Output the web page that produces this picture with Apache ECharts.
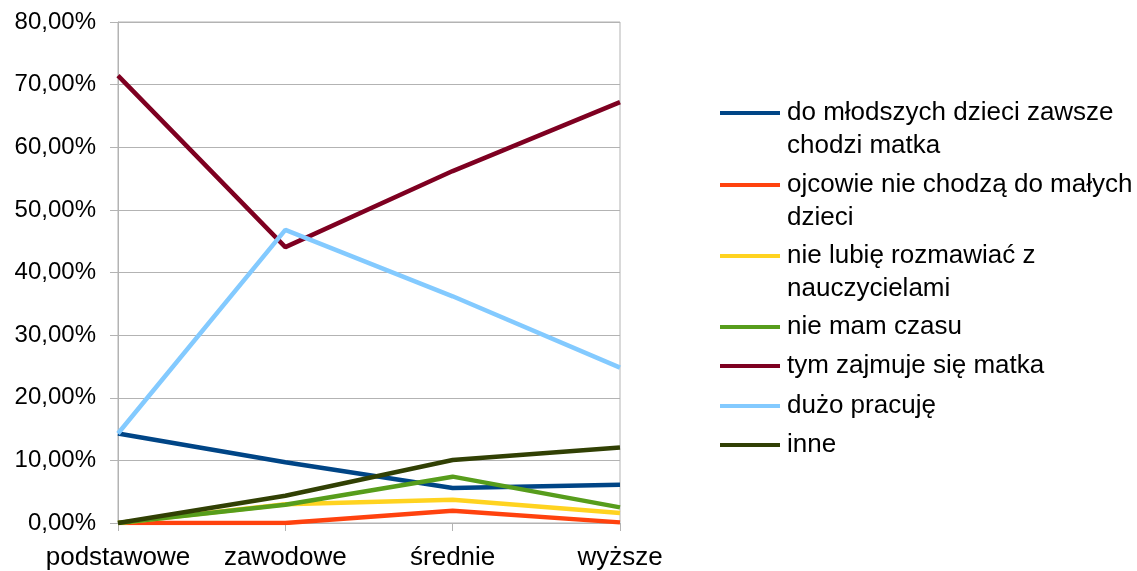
<!DOCTYPE html>
<html>
<head>
<meta charset="utf-8">
<script src="https://cdn.jsdelivr.net/npm/echarts@6/dist/echarts.min.js"></script>
<style>
  html, body { margin: 0; padding: 0; background: #fff; }
  #chart { width: 1137px; height: 571px; }
</style>
</head>
<body>
<div id="chart"></div>
<script>
const categories = ["podstawowe", "zawodowe", "średnie", "wyższe"];

const seriesNames = [
  "do młodszych dzieci zawsze chodzi matka",
  "ojcowie nie chodzą do małych dzieci",
  "nie lubię rozmawiać z nauczycielami",
  "nie mam czasu",
  "tym zajmuje się matka",
  "dużo pracuję",
  "inne",
];
// how the legend wraps each name
const legendLabels = [
  "do młodszych dzieci zawsze\nchodzi matka",
  "ojcowie nie chodzą do małych\ndzieci",
  "nie lubię rozmawiać z\nnauczycielami",
  "nie mam czasu",
  "tym zajmuje się matka",
  "dużo pracuję",
  "inne",
];

// percent values
const mlodszeDzieci = [14.29, 9.7, 5.6, 6.1];
const ojcowie = [0, 0, 1.95, 0.1];
const nieLubie = [0, 3.0, 3.7, 1.6];
const nieMamCzasu = [0, 2.9, 7.4, 2.5];
const zajmujeMatka = [71.43, 44.05, 56.2, 67.2];
const duzoPracuje = [14.29, 46.8, 36.2, 24.8];
const inne = [0, 4.35, 10.05, 12.05];

const values = [mlodszeDzieci, ojcowie, nieLubie, nieMamCzasu, zajmujeMatka, duzoPracuje, inne];
const colors = ["#004586", "#ff420e", "#ffd320", "#579d1c", "#7e0021", "#83caff", "#314004"];

var chartDom = document.getElementById("chart");
var myChart = echarts.init(chartDom);

const font = "'Liberation Sans', Arial, sans-serif";
const gridColor = "#b3b3b3";

// one legend per entry; two-line labels get an empty line on top
// so the icon lines up with the first line of text
const iconY = [113, 185, 256, 327, 366, 406, 445];
const legends = seriesNames.map((name, i) => {
  const twoLines = legendLabels[i].indexOf("\n") >= 0;
  return {
    data: [name],
    orient: "vertical",
    left: 720,
    top: iconY[i] - (twoLines ? 49.5 : 16.5),
    padding: 0,
    icon: "rect",
    itemWidth: 60,
    itemHeight: 4,
    selectedMode: false,
    formatter: () => (twoLines ? " \n" : "") + legendLabels[i],
    textStyle: {
      fontFamily: font,
      fontSize: 26,
      color: "#000",
      lineHeight: 33,
      padding: [0, 0, 0, 2],
    },
  };
});

const opt = {
  animation: false,
  backgroundColor: "#fff",
  color: colors,
  legend: legends,
  grid: {
    left: 118,
    right: 517,
    top: 22,
    bottom: 48,
    show: true,
    borderColor: gridColor,
    borderWidth: 1,
  },
  xAxis: {
    type: "category",
    data: categories,
    boundaryGap: false,
    axisLine: { show: true, lineStyle: { color: gridColor } },
    axisTick: { show: true, length: 8, interval: 0, lineStyle: { color: gridColor } },
    axisLabel: {
      interval: 0,
      margin: 22,
      fontFamily: font,
      fontSize: 26,
      color: "#000",
    },
    splitLine: { show: false },
  },
  yAxis: {
    type: "value",
    min: 0,
    max: 80,
    interval: 10,
    axisLine: { show: true, lineStyle: { color: gridColor } },
    axisTick: { show: true, length: 8, lineStyle: { color: gridColor } },
    axisLabel: {
      margin: 22,
      fontFamily: font,
      fontSize: 24,
      color: "#000",
      formatter: (v) => v.toFixed(2).replace(".", ",") + "%",
    },
    splitLine: { show: true, lineStyle: { color: gridColor, width: 1 } },
  },
  series: seriesNames.map((name, i) => ({
    name: name,
    type: "line",
    data: values[i],
    showSymbol: false,
    symbol: "none",
    lineStyle: { width: 4.5, color: colors[i] },
    itemStyle: { color: colors[i] },
  })),
};

myChart.setOption(opt);
</script>
</body>
</html>
